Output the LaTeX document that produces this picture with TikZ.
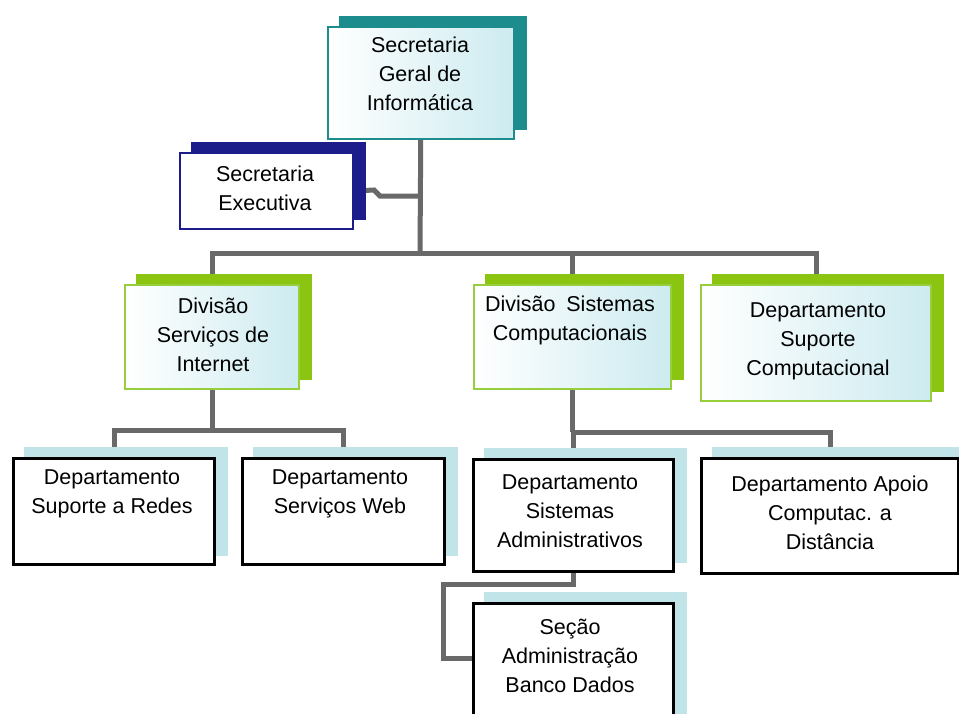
\documentclass[tikz,border=0pt]{standalone}
\usepackage{fontspec}
\setmainfont{Liberation Sans}
\usetikzlibrary{backgrounds}
\definecolor{tealc}{RGB}{28,140,140}
\definecolor{navyc}{RGB}{28,28,138}
\definecolor{greenc}{RGB}{140,196,18}
\definecolor{lgreenc}{RGB}{150,206,60}
\definecolor{cyanc}{RGB}{192,228,232}
\definecolor{gradc}{RGB}{205,235,240}
\definecolor{linec}{RGB}{105,105,105}
\newcommand\shadowof[2]{\fill[#2] ([xshift=12pt,yshift=10pt]#1.south west) rectangle ([xshift=12pt,yshift=10pt]#1.north east);}
\begin{document}
\begin{tikzpicture}[x=1pt,y=-1pt,
  box/.style={rectangle, anchor=north west, inner sep=0pt},
  gbox/.style={box, left color=white, right color=gradc},
  tbox/.style={gbox, draw=tealc, line width=1.5pt},
  nbox/.style={box, fill=white, draw=navyc, line width=2pt},
  dbox/.style={gbox, draw=lgreenc, line width=2pt},
  wbox/.style={box, fill=white, draw=black, line width=3pt},
  txt/.style={align=center, font=\fontsize{21.5}{29}\selectfont, text=black, inner sep=0pt},
  conn/.style={draw=linec, line width=5pt},
]
\useasboundingbox (0,0) rectangle (959,713);

% boxes
\node[tbox, minimum width=186pt, minimum height=112pt] (sgi) at (327,26) {};
\node[nbox, minimum width=173pt, minimum height=76pt] (sec) at (179,152) {};
\node[dbox, minimum width=174pt, minimum height=104pt] (divserv) at (124,284) {};
\node[dbox, minimum width=197pt, minimum height=104pt] (divsist) at (473,284) {};
\node[dbox, minimum width=230pt, minimum height=116pt] (depsup) at (700,284) {};
\node[wbox, minimum width=201pt, minimum height=106pt] (redes) at (12,457) {};
\node[wbox, minimum width=202pt, minimum height=106pt] (web) at (241,457) {};
\node[wbox, minimum width=200pt, minimum height=112pt] (sistadm) at (472,458) {};
\node[wbox, minimum width=200pt, minimum height=128pt] (secao) at (472,602) {};
\node[wbox, minimum width=257pt, minimum height=115pt] (apoio) at (700,457) {};

% texts
\node[txt] (t-sgi) at (420,74) {Secretaria\\Geral de\\Informática};
\node[txt] (t-sec) at (265,188) {Secretaria\\Executiva};
\node[txt] (t-divserv) at (213,335) {Divisão\\Serviços de\\Internet};
\node[txt] (t-divsist) at (570,320) {Divisão\enspace Sistemas\\Computacionais};
\node[txt] (t-depsup) at (818,341) {Departamento\\Suporte\\Computacional};
\node[txt] (t-redes) at (112,494) {Departamento\\Suporte a Redes};
\node[txt] (t-web) at (340,494) {Departamento\\Serviços Web};
\node[txt] (t-sistadm) at (570,511) {Departamento\\Sistemas\\Administrativos};
\node[txt] (t-secao) at (570,656) {Seção\\Administração\\Banco Dados};
\node[txt] (t-apoio) at (830,513) {Departamento Apoio\\Computac. a\\Distância};

\begin{scope}[on background layer]
  \coordinate (j1) at (420,253);
  \coordinate (je) at (420,196);
  \coordinate (j2) at (212,430);
  \coordinate (j3) at (573,432);
  \coordinate (j4) at (443,584);
  \coordinate (se) at ([yshift=9pt]secao.west);
  % connectors
  \draw[conn] (sgi.south) -- (j1);
  \draw[conn] (sec.east) -- (374,190) -- (380,196) -- (je);
  \draw[conn] (divserv.north) -- (divserv.north |- j1) -- (depsup.north |- j1) -- (depsup.north);
  \draw[conn] (divsist.north) -- (divsist.north |- j1);
  \draw[conn] (divserv.south) -- (divserv.south |- j2);
  \draw[conn] (redes.north) -- (redes.north |- j2) -- (web.north |- j2) -- (web.north);
  \draw[conn] (divsist.south) -- (divsist.south |- j3);
  \draw[conn] (sistadm.north) -- (sistadm.north |- j3) -- (apoio.north |- j3) -- (apoio.north);
  \draw[conn] (sistadm.south) |- (j4) -- (j4 |- se) -- (se);
  % shadows
  \shadowof{sgi}{tealc}
  \shadowof{sec}{navyc}
  \shadowof{divserv}{greenc}
  \shadowof{divsist}{greenc}
  \shadowof{depsup}{greenc}
  \shadowof{redes}{cyanc}
  \shadowof{web}{cyanc}
  \shadowof{sistadm}{cyanc}
  \shadowof{secao}{cyanc}
  \shadowof{apoio}{cyanc}
\end{scope}
\end{tikzpicture}
\end{document}
